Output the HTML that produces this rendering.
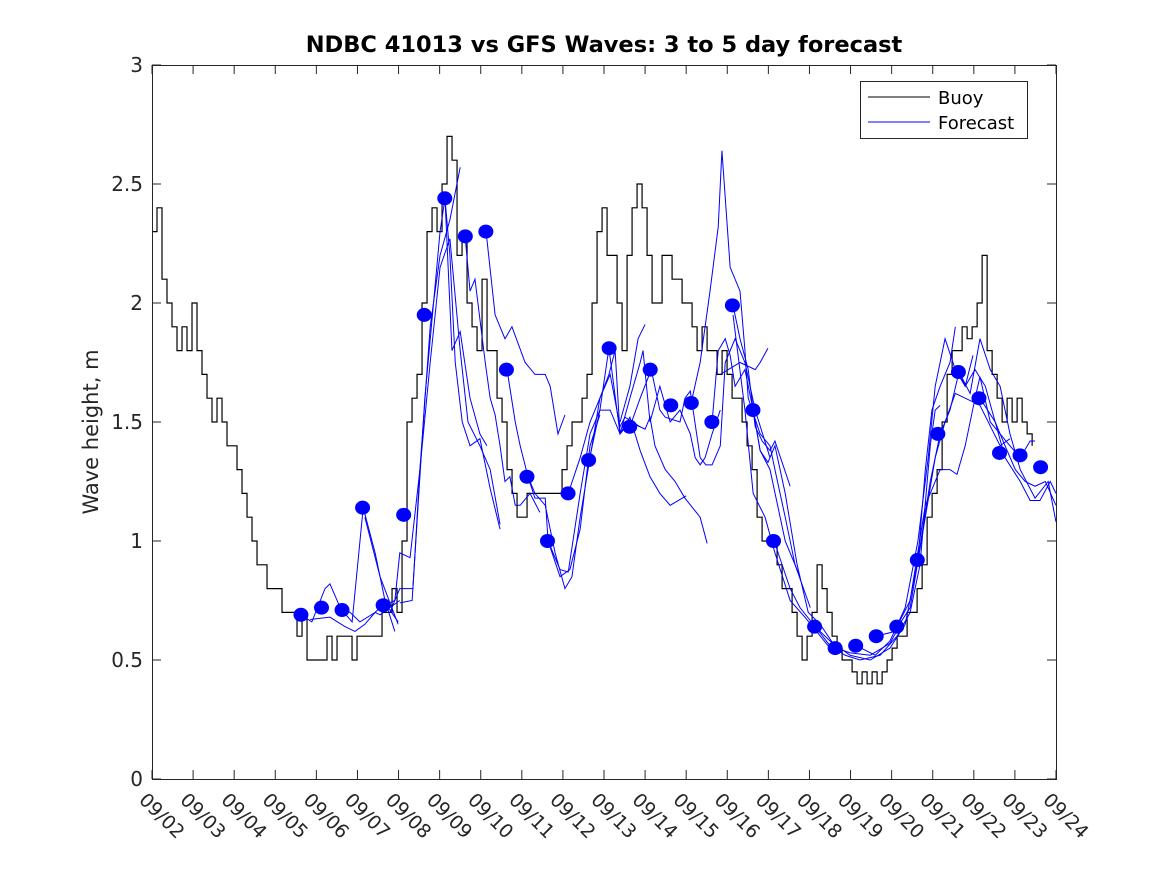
<!DOCTYPE html>
<html><head><meta charset="utf-8"><style>
html,body{margin:0;padding:0;background:#fff;}
svg{display:block;font-family:"DejaVu Sans","Liberation Sans",sans-serif;}
</style></head><body>
<svg id="chart" width="1167" height="875" viewBox="0 0 1167 875" xmlns="http://www.w3.org/2000/svg">
<rect x="0" y="0" width="1167" height="875" fill="#fff"/>
<text x="604" y="52" text-anchor="middle" font-size="22.5" font-weight="bold" fill="#000">NDBC 41013 vs GFS Waves: 3 to 5 day forecast</text>
<text transform="translate(98,432) rotate(-90)" text-anchor="middle" font-size="21" fill="#262626">Wave height, m</text>
<defs><clipPath id="plotclip"><rect x="152" y="65" width="904" height="714"/></clipPath></defs>
<g id="axes"></g>
<g id="marks" clip-path="url(#plotclip)"></g>
<rect x="152.5" y="65.5" width="904" height="714" fill="none" stroke="#262626" stroke-width="1"/>
<g>
<rect x="860.5" y="81.5" width="167" height="57" fill="#fff" stroke="#262626"/>
<line x1="868" y1="97" x2="930" y2="97" stroke="#000" stroke-width="1"/>
<text x="938" y="104" font-size="18" fill="#000">Buoy</text>
<line x1="868" y1="122" x2="930" y2="122" stroke="#0000ff" stroke-width="1"/>
<text x="938" y="129" font-size="18" fill="#000">Forecast</text>
</g>
</svg>
<script>
const xTickLabels = ["09/02","09/03","09/04","09/05","09/06","09/07","09/08","09/09","09/10","09/11","09/12","09/13","09/14","09/15","09/16","09/17","09/18","09/19","09/20","09/21","09/22","09/23","09/24"];
const yTicks = [0,0.5,1,1.5,2,2.5,3];
const yTickLabels = ["0","0.5","1","1.5","2","2.5","3"];
const buoyStartDay = 0;
const buoyStepDay = 0.1217;
const buoyHeights = [2.3,2.4,2.1,2.0,1.9,1.8,1.9,1.8,2.0,1.8,1.7,1.6,1.5,1.6,1.5,1.4,1.4,1.3,1.2,1.1,1.0,0.9,0.9,0.8,0.8,0.8,0.7,0.7,0.7,0.6,0.7,0.5,0.5,0.5,0.5,0.6,0.5,0.6,0.6,0.6,0.5,0.6,0.6,0.6,0.6,0.6,0.7,0.7,0.8,0.7,1.0,1.5,1.6,1.7,2.0,2.3,2.4,2.3,2.5,2.7,2.6,2.2,2.3,2.0,1.9,1.8,2.1,1.8,1.8,1.6,1.5,1.3,1.2,1.1,1.1,1.2,1.2,1.2,1.2,1.2,1.2,1.2,1.3,1.4,1.5,1.5,1.6,1.7,2.0,2.3,2.4,2.2,2.2,2.0,1.8,2.2,2.4,2.5,2.4,2.2,2.0,2.0,2.2,2.2,2.1,2.1,2.0,2.0,1.9,1.8,1.9,1.8,1.8,1.7,1.8,1.7,1.6,1.6,1.5,1.4,1.3,1.1,1.0,1.0,1.0,0.9,0.8,0.8,0.7,0.6,0.5,0.6,0.7,0.9,0.8,0.7,0.6,0.55,0.5,0.5,0.45,0.4,0.45,0.4,0.45,0.4,0.45,0.5,0.55,0.6,0.6,0.7,0.7,0.8,0.9,1.1,1.2,1.3,1.5,1.7,1.8,1.8,1.9,1.85,1.9,2.0,2.2,1.8,1.7,1.6,1.5,1.6,1.5,1.6,1.5,1.45,1.4];
const dotDays = [3.625,4.125,4.625,5.125,5.625,6.125,6.625,7.125,7.625,8.125,8.625,9.125,9.625,10.125,10.625,11.125,11.625,12.125,12.625,13.125,13.625,14.125,14.625,15.125,16.125,16.625,17.125,17.625,18.125,18.625,19.125,19.625,20.125,20.625,21.125,21.625];
const dotHeights = [0.69,0.72,0.71,1.14,0.73,1.11,1.95,2.44,2.28,2.30,1.72,1.27,1.00,1.20,1.34,1.81,1.48,1.72,1.57,1.58,1.50,1.99,1.55,1.00,0.64,0.55,0.56,0.60,0.64,0.92,1.45,1.71,1.60,1.37,1.36,1.31];
const fcTimes = [
[3.63,3.89,4.21,4.33,4.58,4.82,5.06,5.43,5.67,5.99],
[3.85,4.33,4.70,4.94,5.18,5.43,5.55,5.79,6.03],
[4.62,4.87,5.14,5.43,5.67,5.91],
[5.18,5.55,5.99],
[5.65,5.91,6.03,6.28,6.52,6.77,7.01,7.25,7.50],
[5.79,6.03,6.35,6.52,6.77,7.01,7.25,7.50,7.69,7.98,8.23,8.47],
[6.03,6.33,6.64,7.01,7.13,7.30,7.50,7.74,7.98,8.15],
[7.13,7.25,7.38,7.55,7.74,7.98,8.23,8.47],
[7.62,7.74,7.86,8.11,8.23,8.35,8.47,8.59,8.71,8.84,8.96,9.20,9.44],
[8.13,8.35,8.59,8.76,9.08,9.32,9.57,9.69,9.88,10.05],
[8.64,8.84,8.96,9.15,9.32,9.57,9.64,9.93,10.17,10.42,10.66,10.90],
[9.15,9.32,9.57,9.81,10.05,10.22,10.42,10.66,10.90,11.15,11.39,11.51,11.88],
[9.64,9.93,10.13,10.42,10.66,10.90,11.15,11.39,11.63,11.88,12.12,12.36,12.61,13.00],
[10.13,10.42,10.66,10.90,11.12,11.27,11.39,11.63,12.00,12.12,12.24,12.49,12.73,12.97,13.34,13.51],
[10.64,10.90,11.12,11.39,11.63,11.88,11.95,12.12,12.36,12.61,12.85,13.10,13.22,13.34,13.46,13.63,13.83],
[11.39,11.63,11.83,12.00],
[11.63,11.88,12.15,12.36,12.49,12.85,12.97,13.10,13.34,13.48,13.63,13.83,13.95,14.19,14.43,14.68,15.04],
[13.12,13.34,13.58,13.78,13.87,14.07,14.31,14.43,14.51,14.80,15.04,15.16,15.41,15.65,16.02],
[13.63,13.78,13.95,14.07,14.19,14.43,14.63,14.80,15.04,15.41,15.77],
[14.14,14.31,14.51,14.68,14.85,15.04,15.16,15.53],
[13.83,14.31,14.68,14.80,14.99],
[14.14,14.43,14.63,14.92,15.16,15.53,15.89,16.50],
[14.63,14.80,14.99,15.16,15.41,15.70,15.97,16.26,16.65,16.99,17.48,17.96,18.21],
[15.14,15.53,15.77,16.14,16.50,16.87,17.23,17.72,18.13,18.45,18.69,18.94,19.06,19.18],
[16.14,16.50,16.99,17.48,17.96,18.33,18.64,18.82,18.98,19.18,19.42,19.55],
[17.14,17.60,17.96,18.33,18.64,18.89,19.06,19.30,19.55,19.79,19.98],
[17.62,18.08,18.45,18.82,19.06,19.30,19.55,19.79,20.15,20.64,20.88],
[18.13,18.45,18.82,19.18,19.42,19.59,19.79,20.03,20.15,20.40,20.64,20.88,21.13,21.37,21.49],
[18.64,18.94,19.18,19.42,19.64,19.79,20.03,20.28,20.52,20.76,21.01,21.25,21.49,21.74,22.0],
[19.64,19.91,20.15,20.40,20.64,20.88,21.13,21.49,21.81,22.0],
[20.15,20.52,20.76,21.13,21.37,21.61,21.86,22.0]
];
const fcHeights = [
[0.69,0.66,0.80,0.82,0.72,0.70,0.66,0.70,0.74,0.66],
[0.67,0.68,0.64,0.62,0.65,0.70,0.69,0.72,0.75],
[0.71,0.66,1.14,0.95,0.75,0.62],
[1.10,0.85,0.65],
[0.73,0.75,0.95,0.93,1.30,1.90,2.20,2.35,2.57],
[0.70,0.80,0.80,1.30,1.75,2.15,2.27,1.80,1.50,1.40,1.30,1.07],
[0.74,0.75,1.60,2.30,2.44,1.80,1.88,1.60,1.45,1.40],
[2.44,2.20,1.75,1.50,1.40,1.43,1.22,1.05],
[2.28,2.05,2.10,1.75,1.60,1.53,1.40,1.25,1.27,1.15,1.15,1.20,1.12],
[2.30,1.95,1.85,1.90,1.75,1.70,1.70,1.65,1.45,1.53],
[1.72,1.50,1.40,1.27,1.18,1.18,1.00,0.85,0.88,1.05,1.40,1.53],
[1.27,1.20,1.15,0.95,0.80,0.85,1.10,1.35,1.60,1.70,1.48,1.52,1.48],
[1.00,0.88,0.87,1.20,1.45,1.55,1.55,1.45,1.52,1.38,1.27,1.20,1.15,1.19],
[1.20,1.35,1.50,1.60,1.70,1.80,1.45,1.50,1.47,1.52,1.40,1.30,1.25,1.18,1.10,0.99],
[1.34,1.55,1.81,1.45,1.60,1.75,1.80,1.50,1.65,1.50,1.55,1.45,1.35,1.32,1.35,1.45,1.55],
[1.50,1.65,1.85,1.91],
[1.48,1.60,1.72,1.55,1.52,1.50,1.60,1.63,1.35,1.32,1.32,1.40,1.75,1.85,1.75,1.55,1.35],
[1.58,1.75,2.05,2.32,2.64,2.15,2.05,1.80,1.60,1.45,1.40,1.30,1.10,0.90,0.72],
[1.50,1.80,1.85,1.78,1.65,1.72,1.55,1.38,1.30,1.00,0.85],
[1.99,1.85,1.72,1.48,1.42,1.38,1.42,1.23],
[1.70,1.75,1.72,1.75,1.81],
[1.95,1.55,1.20,1.10,0.95,0.75,0.68,0.55],
[1.55,1.38,1.33,1.40,1.20,0.90,0.70,0.65,0.55,0.53,0.52,0.57,0.65],
[1.00,0.80,0.72,0.64,0.56,0.52,0.50,0.52,0.60,0.70,0.90,1.40,1.55,1.57],
[0.64,0.58,0.52,0.50,0.55,0.65,0.92,1.30,1.55,1.65,1.75,1.90],
[0.56,0.52,0.58,0.72,1.00,1.35,1.65,1.85,1.72,1.65,1.78],
[0.60,0.62,0.72,1.10,1.35,1.50,1.62,1.60,1.57,1.40,1.43],
[0.64,0.75,1.15,1.30,1.30,1.28,1.40,1.60,1.69,1.50,1.45,1.40,1.35,1.42,1.42],
[0.92,1.25,1.45,1.55,1.71,1.65,1.72,1.65,1.50,1.40,1.30,1.25,1.23,1.25,1.15],
[1.71,1.62,1.85,1.72,1.65,1.45,1.30,1.18,1.25,1.08],
[1.60,1.50,1.35,1.25,1.17,1.17,1.25,1.20]
];

const NS = "http://www.w3.org/2000/svg";
const X0 = 152, X1 = 1056, Y0 = 779, Y1 = 65;
const xMax = xTickLabels.length - 1;
function xScale(d){ return X0 + (d / xMax) * (X1 - X0); }
function yScale(v){ return Y0 - (v / 3) * (Y0 - Y1); }
const axes = document.getElementById('axes');
const marks = document.getElementById('marks');

xTickLabels.forEach((lab, i) => {
  const x = xScale(i);
  const t1 = document.createElementNS(NS, 'line');
  
  
  t1.setAttribute('x1', x); t1.setAttribute('x2', x); t1.setAttribute('y1', Y0); t1.setAttribute('y2', Y0 - 9);
  t1.setAttribute('stroke', '#262626'); axes.appendChild(t1);
  const t2 = document.createElementNS(NS, 'line');
  
  
  t2.setAttribute('x1', x); t2.setAttribute('x2', x); t2.setAttribute('y1', Y1); t2.setAttribute('y2', Y1 + 9);
  t2.setAttribute('stroke', '#262626'); axes.appendChild(t2);
  const tx = document.createElementNS(NS, 'text');
  
  
  tx.setAttribute('transform', `translate(${x - 14},${Y0 + 22}) rotate(45)`);
  tx.setAttribute('font-size', '19'); tx.setAttribute('fill', '#262626');
  tx.textContent = lab; axes.appendChild(tx);
});
yTicks.forEach((v, i) => {
  const y = yScale(v);
  const t1 = document.createElementNS(NS, 'line');
  
  
  t1.setAttribute('x1', X0); t1.setAttribute('x2', X0 + 9); t1.setAttribute('y1', y); t1.setAttribute('y2', y);
  t1.setAttribute('stroke', '#262626'); axes.appendChild(t1);
  const t2 = document.createElementNS(NS, 'line');
  
  
  t2.setAttribute('x1', X1); t2.setAttribute('x2', X1 - 9); t2.setAttribute('y1', y); t2.setAttribute('y2', y);
  t2.setAttribute('stroke', '#262626'); axes.appendChild(t2);
  const tx = document.createElementNS(NS, 'text');
  
  
  tx.setAttribute('x', X0 - 9); tx.setAttribute('y', y + 7);
  tx.setAttribute('text-anchor', 'end'); tx.setAttribute('font-size', '20'); tx.setAttribute('fill', '#262626');
  tx.textContent = yTickLabels[i]; axes.appendChild(tx);
});

let bd = '';
buoyHeights.forEach((v, i) => {
  const x = xScale(buoyStartDay + i * buoyStepDay), y = yScale(v);
  if (i === 0) bd += `M${x},${y}`;
  else bd += `H${x}V${y}`;
});
const buoy = document.createElementNS(NS, 'path');


buoy.setAttribute('d', bd); buoy.setAttribute('fill', 'none'); buoy.setAttribute('stroke', '#000'); buoy.setAttribute('stroke-width', '1.2');
marks.appendChild(buoy);

fcTimes.forEach((ts, k) => {
  const pts = ts.map((t, j) => `${xScale(t)},${yScale(fcHeights[k][j])}`).join(' ');
  const pl = document.createElementNS(NS, 'polyline');
  
  
  pl.setAttribute('points', pts); pl.setAttribute('fill', 'none'); pl.setAttribute('stroke', '#0000ff'); pl.setAttribute('stroke-width', '1');
  marks.appendChild(pl);
});

dotDays.forEach((d, i) => {
  const c = document.createElementNS(NS, 'ellipse');
  
  
  c.setAttribute('cx', xScale(d)); c.setAttribute('cy', yScale(dotHeights[i]));
  c.setAttribute('rx', 7.5); c.setAttribute('ry', 7); c.setAttribute('fill', '#0000ff');
  marks.appendChild(c);
});
</script>
</body></html>
